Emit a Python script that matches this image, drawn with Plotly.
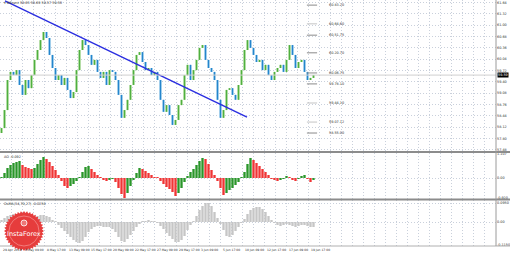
import math
import plotly.graph_objects as go

# ---------------- data ----------------
close = [58.09, 58.60, 59.45, 59.68, 59.59, 59.73, 59.31, 59.03, 59.45, 59.22,
         59.59, 60.02, 60.30, 60.58, 60.81, 60.64, 60.16, 59.79, 59.45, 59.59,
         59.31, 59.51, 59.17, 58.94, 59.11, 59.73, 60.30, 60.58, 60.44, 60.16,
         59.88, 60.02, 59.68, 59.51, 59.68, 59.31, 59.73, 59.68, 59.45, 59.03,
         58.38, 58.60, 58.89, 59.31, 59.73, 60.16, 60.24, 59.96, 59.73, 59.79,
         59.59, 59.68, 59.45, 58.89, 58.55, 58.74, 58.46, 58.18, 58.32, 58.74,
         58.89, 59.59, 59.88, 59.45, 59.73, 60.02, 60.36, 60.44, 60.02, 59.79,
         59.68, 59.45, 58.89, 58.38, 58.60, 59.17, 59.22, 59.03, 58.89, 59.31,
         59.73, 60.30, 60.58, 60.36, 60.16, 59.96, 60.02, 59.73, 59.88, 59.59,
         59.45, 59.68, 59.79, 59.88, 59.68, 60.02, 60.44, 60.16, 59.79, 59.96,
         60.02, 59.68, 59.45, 59.51, 59.59]
first_open = 57.95

ao = [0.046, 0.230, 0.460, 0.598, 0.690, 0.736, 0.782, 0.598, 0.506, 0.460,
      0.414, 0.460, 0.644, 0.828, 0.966, 0.874, 0.736, 0.552, 0.368, 0.138,
      -0.138, -0.368, -0.460, -0.368, -0.276, -0.138, 0.005, 0.276, 0.506, 0.552,
      0.414, 0.276, 0.138, 0.046, -0.092, -0.138, -0.092, -0.046, -0.184, -0.460,
      -0.736, -0.920, -0.690, -0.368, -0.092, 0.230, 0.460, 0.414, 0.322, 0.230,
      0.138, 0.046, 0.010, -0.138, -0.276, -0.414, -0.506, -0.644, -0.828, -0.690,
      -0.460, -0.184, 0.092, 0.276, 0.414, 0.598, 0.782, 0.920, 0.874, 0.644,
      0.368, 0.138, -0.138, -0.460, -0.782, -0.690, -0.552, -0.460, -0.322, -0.184,
      0.010, 0.276, 0.644, 0.920, 0.828, 0.690, 0.552, 0.414, 0.276, 0.138,
      -0.010, -0.092, -0.138, -0.092, -0.046, 0.092, 0.046, -0.092, -0.138, -0.046,
      0.092, 0.138, -0.046, -0.184, -0.092]

osma = [0.010, 0.020, 0.030, 0.035, 0.040, 0.040, 0.035, 0.030, 0.025, 0.020,
        0.020, 0.025, 0.030, 0.035, 0.035, 0.030, 0.025, 0.010, 0.001, -0.015,
        -0.030, -0.045, -0.060, -0.075, -0.090, -0.100, -0.105, -0.095, -0.075, -0.050,
        -0.035, -0.025, -0.020, -0.020, -0.025, -0.025, -0.025, -0.035, -0.050, -0.075,
        -0.095, -0.100, -0.085, -0.065, -0.045, -0.025, -0.010, 0.001, 0.005, 0.010,
        0.005, 0.001, -0.005, -0.020, -0.035, -0.055, -0.070, -0.085, -0.100, -0.100,
        -0.090, -0.070, -0.040, -0.015, 0.005, 0.030, 0.060, 0.080, 0.095, 0.095,
        0.080, 0.050, 0.020, -0.010, -0.040, -0.070, -0.075, -0.065, -0.045, -0.025,
        -0.005, 0.015, 0.040, 0.060, 0.070, 0.075, 0.075, 0.065, 0.050, 0.030,
        0.010, -0.005, -0.015, -0.020, -0.015, -0.010, -0.015, -0.020, -0.025, -0.020,
        -0.015, -0.015, -0.020, -0.025, -0.025]

trend_x = [1.17, 81.83]
trend_y = [61.69, 58.40]

current_price = 59.59

level_prices = [61.57, 61.04, 60.72, 60.22, 59.65, 59.34, 58.80, 58.26, 57.95]
level_texts = ["60.83.20", "60.64.60", "60.51.75", "60.20.70", "60.06.75",
               "59.78.10", "59.44.10", "59.07.12", "58.55.00"]
level_colors = ["#8a8a8a", "#c4c4c4", "#8a8a8a", "#8a8a8a", "#8a8a8a",
                "#8a8a8a", "#c4c4c4", "#c4c4c4", "#8a8a8a"]

price_tickvals = [57.48, 57.80, 58.12, 58.44, 58.76, 59.08, 59.40, 59.72,
                  60.04, 60.36, 60.68, 61.00, 61.32, 61.64]

ao_tickvals = [1.107, 0.0, -0.920]
ao_ticktext = ["1.107", "0.00", "-0.920"]
osma_tickvals = [0.095, 0.0, -0.115]
osma_ticktext = ["0.0950", "0.00", "-0.1150"]

x_labels = ["29 Apr 2019", "6 May 09:00", "8 May 17:00", "13 May 09:00",
            "15 May 17:00", "20 May 09:00", "22 May 17:00", "27 May 09:00",
            "29 May 17:00", "3 Jun 09:00", "5 Jun 17:00", "10 Jun 09:00",
            "12 Jun 17:00", "17 Jun 09:00", "19 Jun 17:00"]

header_text = "\u25be #Brent 59.65 59.69 59.57 59.59"
ao_text = "AO -0.092"
osma_text = "OsMA(34,70,27) -0.0250"

# ---------------- figure ----------------
W, H = 510, 254
ML, MR, MT, MB = 0, 14, 0, 8
PW, PH = W - ML - MR, H - MT - MB  # 496 x 246

n = len(close)
idx = list(range(n))
opens = [first_open] + close[:-1]
highs = [max(o, c) for o, c in zip(opens, close)]
lows = [min(o, c) for o, c in zip(opens, close)]

X_RANGE = [-0.5, PW / 3 - 0.5]
FONT = "DejaVu Sans"
TXT = "#303030"
GRID = "#c9d0db"
DASH = "1px,2px"
FS = 3.4

fig = go.Figure()

# light shadow layer
fig.add_trace(go.Ohlc(
    x=idx, open=opens, high=highs, low=lows, close=close,
    increasing=dict(line=dict(color="#bfe3b2", width=3)),
    decreasing=dict(line=dict(color="#b0d6ef", width=3)),
    tickwidth=0, xaxis="x", yaxis="y", showlegend=False, hoverinfo="skip"))
# main bars
fig.add_trace(go.Ohlc(
    x=idx, open=opens, high=highs, low=lows, close=close,
    increasing=dict(line=dict(color="#4fb040", width=1.2)),
    decreasing=dict(line=dict(color="#2485cc", width=1.2)),
    tickwidth=0, xaxis="x", yaxis="y", showlegend=False, hoverinfo="skip"))

fig.add_trace(go.Scatter(
    x=trend_x, y=trend_y, mode="lines",
    line=dict(color="#2a2ee0", width=1.4),
    xaxis="x", yaxis="y", showlegend=False, hoverinfo="skip"))

ao_colors = ["#2a962a"] + ["#2a962a" if ao[i] > ao[i - 1] else "#f03535"
                           for i in range(1, n)]
fig.add_trace(go.Bar(x=idx, y=ao, marker=dict(color=ao_colors, line=dict(width=0)),
                     xaxis="x2", yaxis="y2", showlegend=False, hoverinfo="skip"))

fig.add_trace(go.Bar(x=idx, y=osma, marker=dict(color="#c6c6c6", line=dict(width=0)),
                     xaxis="x3", yaxis="y3", showlegend=False, hoverinfo="skip"))

xcommon = dict(range=X_RANGE, showgrid=True, gridcolor=GRID, griddash=DASH,
               gridwidth=1, tickmode="linear", tick0=0.7 / 3 - 0.5, dtick=11 / 3,
               showticklabels=False, zeroline=False, showline=False, ticks="",
               fixedrange=True)

main_dom = [(PH - 152) / PH, 1.0]
ao_dom = [(PH - 199) / PH, (PH - 153) / PH]
os_dom = [0.0, (PH - 200) / PH]

ycommon = dict(side="right", showgrid=True, gridcolor=GRID, griddash=DASH,
               gridwidth=1, zeroline=False, showline=False, ticks="",
               tickfont=dict(size=FS, color=TXT, family=FONT), fixedrange=True)

fig.update_layout(
    width=W, height=H,
    margin=dict(l=ML, r=MR, t=MT, b=MB),
    paper_bgcolor="white", plot_bgcolor="white",
    bargap=0.22,
    xaxis=dict(**xcommon, anchor="y", rangeslider=dict(visible=False)),
    xaxis2=dict(**xcommon, anchor="y2", matches="x"),
    xaxis3=dict(**xcommon, anchor="y3", matches="x"),
    yaxis=dict(**ycommon, domain=main_dom, range=[57.413, 61.715],
               tickvals=price_tickvals,
               ticktext=[f"{v:.2f}" for v in price_tickvals]),
    yaxis2=dict(**ycommon, domain=ao_dom, range=[-0.966, 1.15],
                tickvals=ao_tickvals, ticktext=ao_ticktext),
    yaxis3=dict(**ycommon, domain=os_dom, range=[-0.12, 0.11],
                tickvals=osma_tickvals, ticktext=osma_ticktext),
)

shapes = []
annotations = []

def px_x(p):
    return p / PW

def px_y(p):
    return (PH - p) / PH

# current price line
shapes.append(dict(type="line", xref="paper", yref="y", x0=0, x1=1,
                   y0=current_price, y1=current_price,
                   line=dict(color="#cfcfcf", width=1)))

# level markers with labels
for p, t, c in zip(level_prices, level_texts, level_colors):
    shapes.append(dict(type="line", xref="x", yref="y", x0=101.8, x1=105.2,
                       y0=p, y1=p, line=dict(color=c, width=1)))
    annotations.append(dict(x=108.5, y=p, xref="x", yref="y", text=t,
                            showarrow=False, xanchor="left", yanchor="middle",
                            font=dict(size=FS, color=TXT, family=FONT)))

# panel separators and borders
for yy, col, w in [(152, "#8c8c8c", 2), (199.5, "#8c8c8c", 2), (246, "#b0b0b0", 1)]:
    shapes.append(dict(type="line", xref="paper", yref="paper", x0=0, x1=(PW + MR) / PW,
                       y0=px_y(yy), y1=px_y(yy), line=dict(color=col, width=w)))
shapes.append(dict(type="line", xref="paper", yref="paper", x0=1, x1=1,
                   y0=0, y1=1, line=dict(color="#9a9a9a", width=1)))

# current price box
annotations.append(dict(x=1, y=current_price, xref="paper", yref="y",
                        text=f"{current_price:.2f}", showarrow=False,
                        xanchor="left", yanchor="middle", xshift=1,
                        bgcolor="#000000", borderpad=0,
                        font=dict(size=FS, color="#ffffff", family=FONT)))

# panel titles
annotations.append(dict(x=px_x(2), y=px_y(3), xref="paper", yref="paper",
                        text=header_text, showarrow=False, xanchor="left",
                        yanchor="middle", font=dict(size=FS, color=TXT, family=FONT)))
annotations.append(dict(x=px_x(2), y=px_y(157), xref="paper", yref="paper",
                        text=ao_text, showarrow=False, xanchor="left",
                        yanchor="middle", font=dict(size=FS, color=TXT, family=FONT)))
annotations.append(dict(x=px_x(2), y=px_y(204), xref="paper", yref="paper",
                        text=osma_text, showarrow=False, xanchor="left",
                        yanchor="middle", font=dict(size=FS, color=TXT, family=FONT)))

# time labels
for k, lab in enumerate(x_labels):
    xv = (1 + 22 * k) / 3 - 0.5
    annotations.append(dict(x=xv, y=px_y(250), xref="x3", yref="paper",
                            text=lab, showarrow=False, xanchor="left",
                            yanchor="middle",
                            font=dict(size=3.0, color=TXT, family=FONT)))

# InstaForex seal logo
cx, cy, r_out, r_in, teeth = 24, 231, 20, 18, 40
pts = []
for j in range(teeth * 2):
    a = math.pi * j / teeth
    r = r_out if j % 2 == 0 else r_in
    pts.append((px_x(cx + r * math.cos(a)), px_y(cy + r * math.sin(a))))
path = "M " + " L ".join(f"{a:.5f},{b:.5f}" for a, b in pts) + " Z"
shapes.append(dict(type="path", xref="paper", yref="paper", path=path,
                   fillcolor="#e63c3c", line=dict(width=0)))
shapes.append(dict(type="circle", xref="paper", yref="paper",
                   x0=px_x(cx - 15), x1=px_x(cx + 15), y0=px_y(cy + 15), y1=px_y(cy - 15),
                   line=dict(color="#f38a8a", width=0.8)))
shapes.append(dict(type="circle", xref="paper", yref="paper",
                   x0=px_x(cx - 3), x1=px_x(cx + 3), y0=px_y(cy - 5), y1=px_y(cy - 11),
                   line=dict(color="#ffffff", width=0.8), fillcolor="rgba(255,255,255,0.3)"))
annotations.append(dict(x=px_x(cx), y=px_y(cy + 3), xref="paper", yref="paper",
                        text="InstaForex", showarrow=False, xanchor="center",
                        yanchor="middle",
                        font=dict(size=6.5, color="#ffffff", family=FONT)))

fig.update_layout(shapes=shapes, annotations=annotations)

fig.write_html("out.html")
